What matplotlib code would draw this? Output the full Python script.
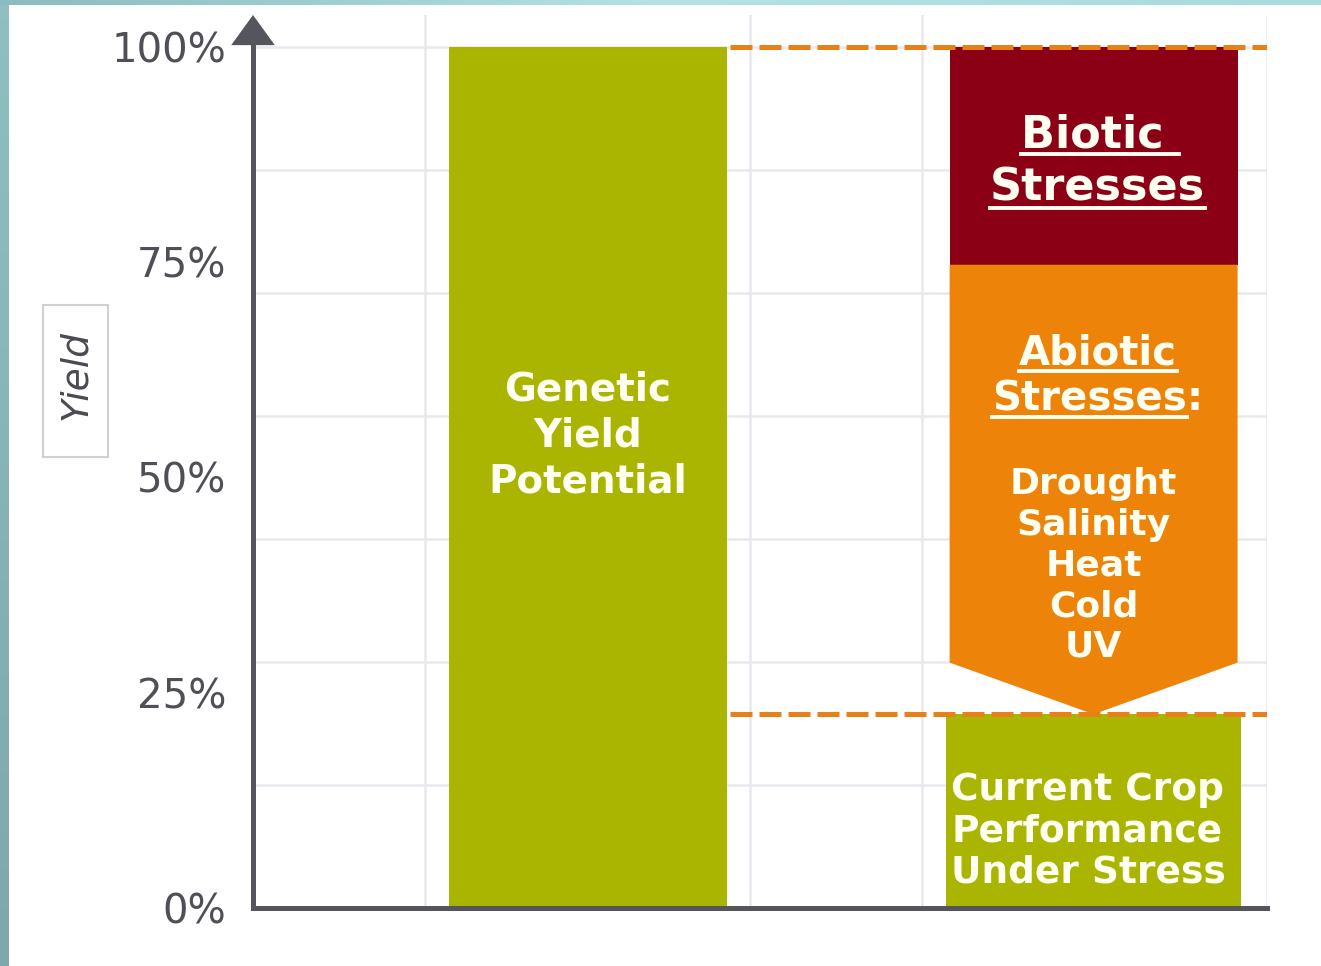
import matplotlib
matplotlib.use("Agg")
import matplotlib.pyplot as plt
import matplotlib.transforms as mtransforms
from matplotlib.patches import Rectangle, Polygon
from matplotlib.lines import Line2D
import numpy as np

# ---------------- data ----------------
y_ticks = [0, 25, 50, 75, 100]
y_tick_labels = ["0%", "25%", "50%", "75%", "100%"]
genetic_potential = 100.0
current_performance = 22.5
abiotic_loss = 52.2
biotic_loss = 25.3
grid_y = [14.3, 28.6, 42.9, 57.1, 71.4, 85.7, 100.0]
grid_x = [1.7, 4.9, 6.6, 10.0]

genetic_label = ["Genetic", "Yield", "Potential"]
current_label = ["Current Crop", "Performance", "Under Stress"]
biotic_label = ["Biotic ", "Stresses"]
abiotic_title = ["Abiotic", "Stresses"]
abiotic_items = ["Drought", "Salinity", "Heat", "Cold", "UV"]

# ---------------- style / layout ----------------
W, H = 1321, 966
GREEN = "#a9b500"
DARKRED = "#8c0016"
ORANGE = "#ee8309"
DASH = "#e8801a"
AXIS = "#55555e"
GRID = "#e8e8ef"
TXT = "#fffff2"

left_x, left_w = 3.3, 2.74
right_x, right_w = 8.29, 2.84
bottom_w = 2.91
arrow_depth = 6.0
dash_start = 4.70

fig = plt.figure(figsize=(W / 100, H / 100), dpi=100)
fig.patch.set_facecolor("white")

# decorative slide borders
bax = fig.add_axes([0, 0, 9 / W, 1])
bax.imshow(np.linspace(0, 1, 50).reshape(-1, 1), cmap=matplotlib.colors.LinearSegmentedColormap.from_list("l", ["#8fbfc2", "#7fa8ab"]), aspect="auto", extent=[0, 1, 0, 1])
bax.axis("off")
tax = fig.add_axes([0, 1 - 5 / H, 1, 5 / H])
tax.imshow(np.linspace(0, 1, 100).reshape(1, -1), cmap=matplotlib.colors.LinearSegmentedColormap.from_list("t", ["#8cbcbf", "#b4e2e5", "#a9dadd"]), aspect="auto", extent=[0, 1, 0, 1])
tax.axis("off")

ax = fig.add_axes([253 / W, 58 / H, 1014 / W, 893 / H])
ax.set_xlim(0, 10)
ax.set_ylim(0, 103.7)
ax.set_facecolor("none")

# grid
for gy in grid_y:
    ax.axhline(gy, color=GRID, lw=1.8, zorder=0)
for gx in grid_x:
    ax.axvline(gx, color=GRID, lw=1.8, zorder=0)

# bars
ax.bar([left_x], [genetic_potential], width=left_w, color=GREEN, zorder=2)
ax.bar([right_x], [current_performance], width=bottom_w, color=GREEN, zorder=2)
ax.bar([right_x], [biotic_loss], bottom=[current_performance + abiotic_loss],
       width=right_w, color=DARKRED, zorder=2)
top_ab = current_performance + abiotic_loss
xl, xr = right_x - right_w / 2, right_x + right_w / 2
ax.add_patch(Polygon([(xl, top_ab), (xr, top_ab), (xr, current_performance + arrow_depth),
                      (right_x, current_performance), (xl, current_performance + arrow_depth)],
                     closed=True, facecolor=ORANGE, edgecolor="none", zorder=2))

# dashed reference lines
for yv in [genetic_potential, current_performance]:
    ax.plot([dash_start, 10], [yv, yv], color=DASH, lw=3.6, dashes=(4.4, 1.4), zorder=3,
            solid_capstyle="butt", dash_capstyle="butt")

# axes
for s in ["top", "right"]:
    ax.spines[s].set_visible(False)
for s in ["left", "bottom"]:
    ax.spines[s].set_color(AXIS)
    ax.spines[s].set_linewidth(3.6)
    ax.spines[s].set_zorder(4)
ax.spines["left"].set_bounds(0, 100.6)
trans = mtransforms.blended_transform_factory(ax.transAxes, ax.transData)
ax.add_patch(Polygon([(-0.0215, 100.2), (0.0215, 100.2), (0, 103.7)], closed=True,
                     transform=trans, facecolor=AXIS, edgecolor="none", clip_on=False, zorder=5))
ax.set_xticks([])
ax.set_yticks(y_ticks)
ax.set_yticklabels(y_tick_labels)
ax.tick_params(axis="y", length=0, pad=19, labelsize=29, labelcolor="#4f4f57")

# Yield box
fig.add_artist(Rectangle((43 / W, 1 - 457 / H), 65 / W, 152 / H, transform=fig.transFigure,
                         facecolor="white", edgecolor="#d0d0d0", lw=1.5))
fig.text(76 / W, 1 - 375 / H, "Yield", rotation=90, style="italic", fontsize=27,
         color="#4a4a52", ha="center", va="center")

# bar texts
ax.text(left_x, 54.9, "\n".join(genetic_label), ha="center", va="center", color=TXT,
        fontsize=28, fontweight="bold", linespacing=1.26, zorder=6)
ax.text(right_x - bottom_w / 2 + 0.05, 8.9, "\n".join(current_label), ha="left", va="center",
        color=TXT, fontsize=27, fontweight="bold", linespacing=1.18, zorder=6)

t_bio1 = ax.text(8.35, 89.8, biotic_label[0], ha="center", va="center", color=TXT,
                 fontsize=32, fontweight="bold", zorder=6)
t_bio2 = ax.text(8.33, 83.6, biotic_label[1], ha="center", va="center", color=TXT,
                 fontsize=32, fontweight="bold", zorder=6)
t_ab1 = ax.text(8.33, 64.4, abiotic_title[0], ha="center", va="center", color=TXT,
                fontsize=29, fontweight="bold", zorder=6)
t_ab2 = ax.text(8.25, 59.1, abiotic_title[1], ha="center", va="center", color=TXT,
                fontsize=29, fontweight="bold", zorder=6)
ax.text(right_x, 39.8, "\n".join(abiotic_items), ha="center", va="center", color=TXT,
        fontsize=26, fontweight="bold", linespacing=1.25, zorder=6)

fig.canvas.draw()
r = fig.canvas.get_renderer()
bb = t_ab2.get_window_extent(r)
cx, cy = ax.transData.inverted().transform((bb.x1, (bb.y0 + bb.y1) / 2))
ax.text(cx, 59.1, ":", ha="left", va="center", color=TXT, fontsize=29, fontweight="bold", zorder=6)

inv = fig.transFigure.inverted()
for t in [t_bio1, t_bio2, t_ab1, t_ab2]:
    bb = t.get_window_extent(r)
    y = bb.y0 + 2
    (fx0, fy), (fx1, _) = inv.transform([(bb.x0, y), (bb.x1, y)])
    fig.add_artist(Line2D([fx0, fx1], [fy, fy], transform=fig.transFigure, color=TXT, lw=2.8, zorder=7))

fig.savefig("out.png", dpi=100, facecolor="white")
